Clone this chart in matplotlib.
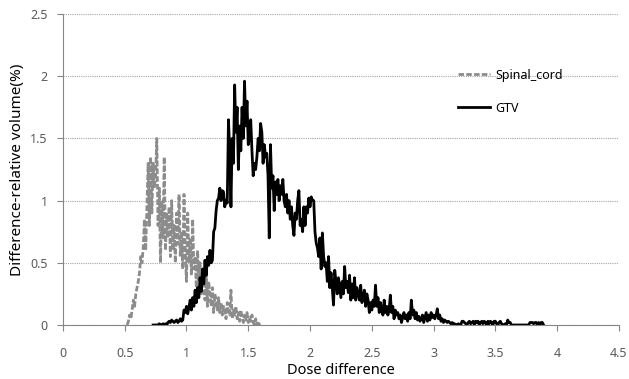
import numpy as np
from matplotlib import pyplot as plt

plt.rcParams['font.family'] = ['Noto Sans', 'DejaVu Sans']

# dose difference grid starts, step 0.01
spinal_start = 0.52
spinal_vals = [
    0.0, 0.03, 0.08, 0.05, 0.12, 0.2, 0.15, 0.25, 0.3, 0.35, 0.42, 0.55,
    0.5, 0.62, 0.85, 0.6, 0.95, 1.3, 0.8, 1.35, 0.9, 1.3, 1.1, 1.2,
    1.5, 0.8, 1.1, 0.5, 1.0, 0.7, 1.35, 0.6, 0.9, 0.7, 0.95, 0.55,
    1.0, 0.6, 0.8, 0.5, 0.9, 0.65, 1.05, 0.55, 0.75, 0.45, 1.05, 0.6,
    0.35, 0.9, 0.5, 0.7, 0.4, 0.85, 0.45, 0.55, 0.3, 0.6, 0.35, 0.5,
    0.25, 0.45, 0.3, 0.2, 0.4, 0.15, 0.35, 0.25, 0.15, 0.3, 0.1, 0.25,
    0.2, 0.12, 0.22, 0.1, 0.18, 0.08, 0.15, 0.12, 0.05, 0.18, 0.1, 0.08,
    0.28, 0.05, 0.12, 0.08, 0.15, 0.05, 0.1, 0.03, 0.12, 0.06, 0.02, 0.08,
    0.04, 0.1, 0.02, 0.06, 0.03, 0.08, 0.02, 0.0, 0.05, 0.0, 0.03, 0.0, 0.0,
]

gtv_start = 0.73
gtv_vals = [
    0.0, 0.0, 0.0, 0.0, 0.0, 0.01, 0.0, 0.0, 0.01, 0.0, 0.01, 0.0,
    0.02, 0.03, 0.02, 0.04, 0.03, 0.02, 0.03, 0.04, 0.02, 0.03, 0.05, 0.03, 0.04,
    0.12, 0.1, 0.15, 0.09, 0.14, 0.2, 0.12, 0.22, 0.15, 0.28, 0.18, 0.3,
    0.22, 0.38, 0.27, 0.45, 0.33, 0.52, 0.4, 0.55, 0.48, 0.6, 0.5, 0.52,
    0.75, 0.78, 0.92, 1.0, 1.02, 1.1, 1.0, 1.08, 1.07, 0.95, 1.0, 0.98,
    1.65, 1.4, 0.95, 1.5, 1.3, 1.93, 1.55, 1.75, 1.25, 1.6, 1.4, 1.75,
    1.5, 1.96, 1.6, 1.8, 1.45, 1.5, 1.65, 1.4, 1.2, 1.3, 1.25, 1.35,
    1.5, 1.4, 1.62, 1.55, 1.3, 1.45, 1.35, 1.38,
    1.2, 0.7, 1.45, 1.1, 1.2, 0.92, 1.15, 1.05, 1.17, 1.0, 1.12, 1.05, 1.17, 1.0, 0.95, 1.05,
    0.9, 1.0, 0.85, 0.95, 0.8, 0.72, 0.9, 0.85, 1.0, 1.08, 0.8, 0.85,
    0.75, 0.95, 0.8, 0.95, 0.9, 1.02, 0.95, 1.03, 1.0, 1.0, 0.75, 0.66,
    0.62, 0.55, 0.7, 0.45, 0.74, 0.55, 0.47, 0.5, 0.35, 0.55, 0.3, 0.42,
    0.3, 0.16, 0.44, 0.35, 0.25, 0.38, 0.3, 0.22, 0.35, 0.25, 0.47, 0.3,
    0.35, 0.26, 0.4, 0.2, 0.33, 0.22, 0.38, 0.2, 0.3, 0.25, 0.2, 0.32,
    0.18, 0.22, 0.28, 0.15, 0.25, 0.2, 0.1, 0.18, 0.12, 0.2, 0.15, 0.32,
    0.15, 0.22, 0.1, 0.18, 0.12, 0.08, 0.2, 0.1, 0.15, 0.08, 0.12, 0.24,
    0.1, 0.15, 0.05, 0.12, 0.08, 0.1, 0.05, 0.08, 0.02, 0.06, 0.1, 0.05,
    0.08, 0.03, 0.1, 0.05, 0.2, 0.08, 0.12, 0.05, 0.1, 0.04, 0.07, 0.03,
    0.05, 0.08, 0.02, 0.06, 0.1, 0.03, 0.08, 0.04, 0.1, 0.06, 0.08, 0.05,
    0.08, 0.13, 0.05, 0.08, 0.03, 0.05, 0.02, 0.04, 0.03, 0.02, 0.03, 0.02,
    0.01, 0.02, 0.01, 0.01, 0.0, 0.0, 0.01, 0.0, 0.0, 0.03, 0.03, 0.02,
    0.01, 0.0, 0.02, 0.03, 0.01, 0.02, 0.03, 0.0, 0.03, 0.02, 0.03, 0.0,
    0.02, 0.03, 0.01, 0.03, 0.02, 0.0, 0.03, 0.01, 0.03, 0.02, 0.0, 0.03,
    0.03, 0.01, 0.0, 0.02, 0.03, 0.01, 0.0, 0.0, 0.01, 0.0, 0.04, 0.02,
    0.02, 0.0, 0.0, 0.0, 0.0, 0.0, 0.0, 0.0, 0.0, 0.0, 0.0, 0.0,
    0.0, 0.0, 0.0, 0.0, 0.02, 0.02, 0.02, 0.01, 0.02, 0.02, 0.0, 0.02, 0.0, 0.02, 0.02, 0.0,
]

spinal_x = spinal_start + 0.01 * np.arange(len(spinal_vals))
gtv_x = gtv_start + 0.01 * np.arange(len(gtv_vals))

xticks = [0, 0.5, 1, 1.5, 2, 2.5, 3, 3.5, 4, 4.5]
xticklabels = ['0', '0.5', '1', '1.5', '2', '2.5', '3', '3.5', '4', '4.5']
yticks = [0, 0.5, 1, 1.5, 2, 2.5]
yticklabels = ['0', '0.5', '1', '1.5', '2', '2.5']

fig = plt.figure(figsize=(6.29, 3.79), dpi=100)
ax = fig.add_axes([0.1, 0.1425, 0.884, 0.8205])

axis_col = '#868686'
ax.plot(spinal_x, spinal_vals, color='#8c8c8c', lw=2, ls=(0, (2, 0.8)), label='Spinal_cord')
ax.plot(gtv_x, gtv_vals, color='black', lw=2, label='GTV')

ax.set_xlim(0, 4.5)
ax.set_ylim(0, 2.5)
ax.set_xticks(xticks)
ax.set_xticklabels(xticklabels)
ax.set_yticks(yticks)
ax.set_yticklabels(yticklabels)
ax.tick_params(axis='x', direction='out', length=4, pad=12, color=axis_col,
               labelcolor='#595959', labelsize=9)
ax.tick_params(axis='y', direction='out', length=4, pad=7, color=axis_col,
               labelcolor='#595959', labelsize=9)

ax.yaxis.grid(True, ls=(0, (1, 1)), color='#a6a6a6', lw=0.8)
ax.set_axisbelow(True)
for s in ['top', 'right']:
    ax.spines[s].set_visible(False)
for s in ['left', 'bottom']:
    ax.spines[s].set_color(axis_col)

ax.set_xlabel('Dose difference', fontsize=10.5, labelpad=2)
ax.set_ylabel('Difference-relative volume(%)', fontsize=11, labelpad=4)

ax.legend(loc='upper left', bbox_to_anchor=(0.69, 0.86), frameon=False,
          handlelength=2.6, labelspacing=1.6, fontsize=9, handletextpad=0.4)

fig.savefig('out.png', dpi=100)
